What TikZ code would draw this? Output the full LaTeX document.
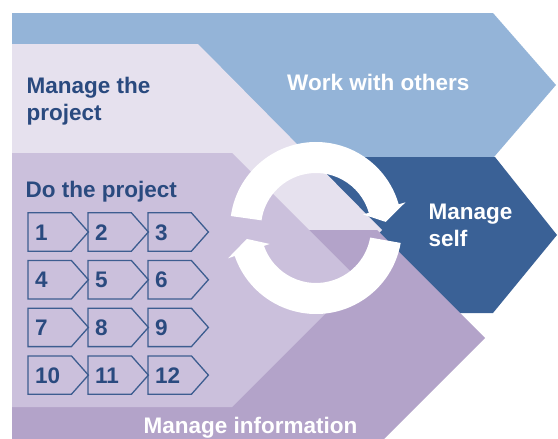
\documentclass[tikz,border=0pt]{standalone}
\usepackage{fontspec}
\setmainfont{Liberation Sans}
\usetikzlibrary{calc}
\definecolor{cWork}{HTML}{94B4D8}
\definecolor{cSelf}{HTML}{3A6196}
\definecolor{cMtp}{HTML}{E6E1EE}
\definecolor{cDo}{HTML}{CBC0DC}
\definecolor{cInfo}{HTML}{B3A3C9}
\definecolor{cText}{HTML}{2A4A7F}
\definecolor{cBox}{HTML}{3D5D90}
\begin{document}
\begin{tikzpicture}[x=1pt,y=-1pt,
  txtlabel/.style={inner sep=0pt, anchor=base west, font=\fontsize{22.5}{27.5}\selectfont\bfseries, align=left},
  darklabel/.style={txtlabel, text=cText},
  lightlabel/.style={txtlabel, text=white},
  numbox/.style={rectangle, inner xsep=7pt, inner ysep=0pt, minimum height=38pt, text width=29pt, align=left, text height=16pt, text depth=0pt, anchor=west, font=\fontsize{22.5}{26}\selectfont\bfseries, text=cText},
  boxline/.style={draw=cBox, line width=1.3pt, line join=miter},
  ring/.style={fill=white}
]
\useasboundingbox (0,0) rectangle (558,439);
\clip (0,0) rectangle (558,439);
% chevrons
\fill[cWork] (12,13) -- (493,13) -- (556,85) -- (494,157) -- (12,157) -- cycle;
\fill[cSelf] (300,157) -- (495,157) -- (557,235) -- (493,313) -- (300,313) -- cycle;
\fill[cMtp] (12,44) -- (198,44) -- (382,230) -- (198,416) -- (12,416) -- cycle;
\fill[cInfo] (12,230) -- (377,230) -- (485,338) -- (377,446) -- (12,446) -- cycle;
\fill[cDo] (12,153) -- (232,153) -- (359,280) -- (232,407) -- (12,407) -- cycle;
% cycle arrows
\begin{scope}[shift={(316,228)}]
\fill[ring] (172:86pt) arc[start angle=172, end angle=16, radius=86pt] -- (16:93pt) -- (5:70pt) -- (16:49pt) -- (16:55pt) arc[start angle=16, end angle=172, radius=55pt] -- cycle;
\fill[ring] (-10:86pt) arc[start angle=-10, end angle=-161, radius=86pt] -- (-161:93pt) -- (-171:70pt) -- (-161:49pt) -- (-161:55pt) arc[start angle=-161, end angle=-10, radius=55pt] -- cycle;
\end{scope}
% step boxes
\foreach \n [count=\i from 0] in {1,...,12} {
  \pgfmathtruncatemacro\col{mod(\i,3)}
  \pgfmathtruncatemacro\row{int(\i/3)}
  \pgfmathsetmacro\bx{28+60*\col}
  \pgfmathsetmacro\by{232+47.7*\row}
  \node[numbox] (b\n) at (\bx,\by) {\n};
  \draw[boxline] (b\n.north west) -- (b\n.north east) -- ($(b\n.east)+(17,0)$) -- (b\n.south east) -- (b\n.south west) -- cycle;
}
% labels
\node[darklabel] (mtp) at (26.5,120.5) {Manage the\\project};
\node[darklabel] (do) at (25.5,197) {Do the project};
\node[lightlabel] (work) at (287,90) {Work with others};
\node[lightlabel] (self) at (428.5,246.5) {Manage\\self};
\node[lightlabel] (info) at (143.5,433) {Manage information};
\end{tikzpicture}
\end{document}
